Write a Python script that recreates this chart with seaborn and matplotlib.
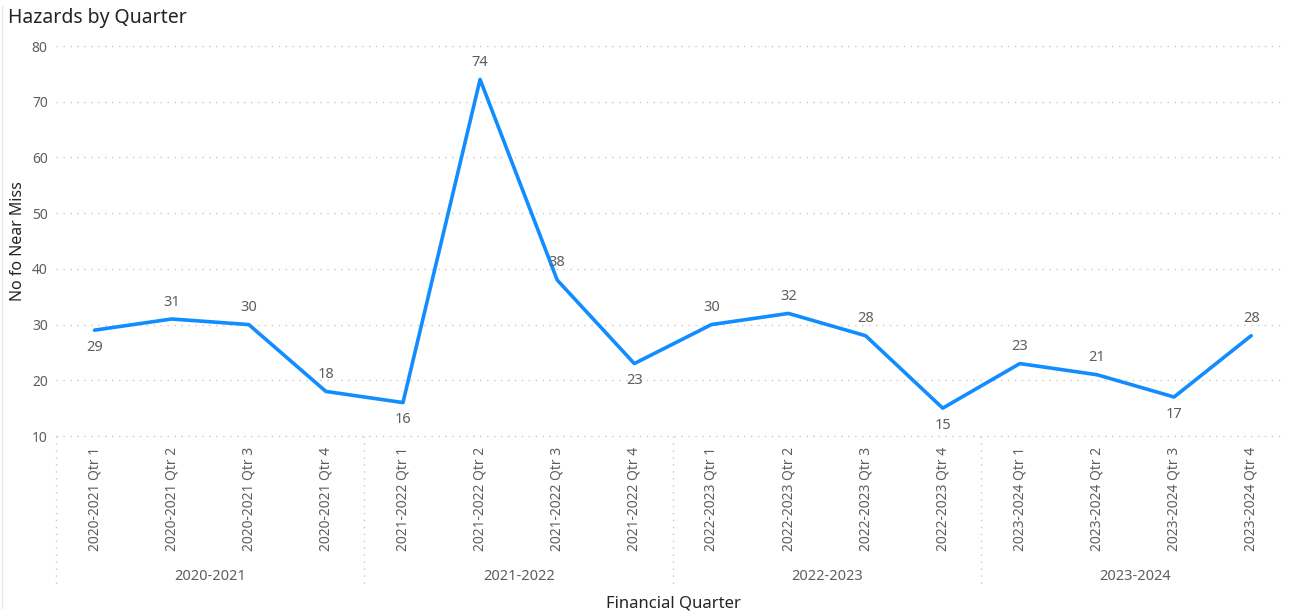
import pandas as pd
import matplotlib.pyplot as plt
import seaborn as sns
from matplotlib.lines import Line2D

# data
years = ['2020-2021', '2021-2022', '2022-2023', '2023-2024']
quarters = ['Qtr 1', 'Qtr 2', 'Qtr 3', 'Qtr 4']
near_miss = [29, 31, 30, 18, 16, 74, 38, 23, 30, 32, 28, 15, 23, 21, 17, 28]
label_below = [True, False, False, False, True, False, False, True,
               False, False, False, True, False, False, True, False]

labels = [f'{y} {q}' for y in years for q in quarters]
df = pd.DataFrame({'Quarter': labels, 'Count': near_miss})

sns.set_style('white')
plt.rcParams['font.family'] = ['Noto Sans', 'DejaVu Sans']

grey = '#605E5C'
fig = plt.figure(figsize=(12.9, 6.14), dpi=100)
ax = fig.add_axes([56 / 1290, 178 / 614, 1226 / 1290, 390 / 614])

sns.lineplot(data=df, x='Quarter', y='Count', sort=False, color='#118DFF',
             linewidth=2.6, ax=ax)

ax.set_xlim(-0.5, 15.4)
ax.set_ylim(10, 80)
ax.set_yticks(range(10, 81, 10))
ax.grid(axis='y', color='#C8C8C8', linestyle=(0, (1, 4)), linewidth=1)
ax.grid(axis='x', visible=False)
for gl in ax.get_ygridlines():
    gl.set_clip_on(False)
for s in ax.spines.values():
    s.set_visible(False)

ax.tick_params(axis='y', colors=grey, labelsize=10, length=0, pad=6)
ax.tick_params(axis='x', colors=grey, labelsize=10, length=0, pad=8, rotation=90)
ax.set_xticks(range(len(labels)))
ax.set_xticklabels(labels, va='top')

# data labels
for i, (v, below) in enumerate(zip(near_miss, label_below)):
    off = -17 if below else 17
    ax.annotate(str(v), (i, v), xytext=(0, off), textcoords='offset pixels',
                ha='center', va='center', fontsize=10.5, color=grey)

# hierarchy separators and year labels
trans = ax.get_xaxis_transform()
for g in range(len(years)):
    ax.add_line(Line2D([g * 4 - 0.5, g * 4 - 0.5], [0, -0.39], transform=trans,
                       color='#C8C8C8', linestyle=(0, (1, 4)), linewidth=1, clip_on=False))
    ax.text(g * 4 + 1.5, -0.359, years[g], transform=trans, ha='center', va='center',
            fontsize=10.5, color=grey)

ax.set_xlabel('')
ax.set_ylabel('')
fig.text(673 / 1290, 1 - 603 / 614, 'Financial Quarter', ha='center', va='center',
         fontsize=12, color='#252423')
fig.text(18 / 1290, 1 - 241 / 614, 'No fo Near Miss', ha='center', va='center',
         rotation=90, fontsize=11.5, color='#252423')
fig.text(8 / 1290, 1 - 18 / 614, 'Hazards by Quarter', ha='left', va='center',
         fontsize=14, color='#252423')
fig.add_artist(Line2D([2 / 1290, 2 / 1290], [0.01, 0.99], color='#E6E6E6', linewidth=1))

fig.savefig('out.png', dpi=100)
